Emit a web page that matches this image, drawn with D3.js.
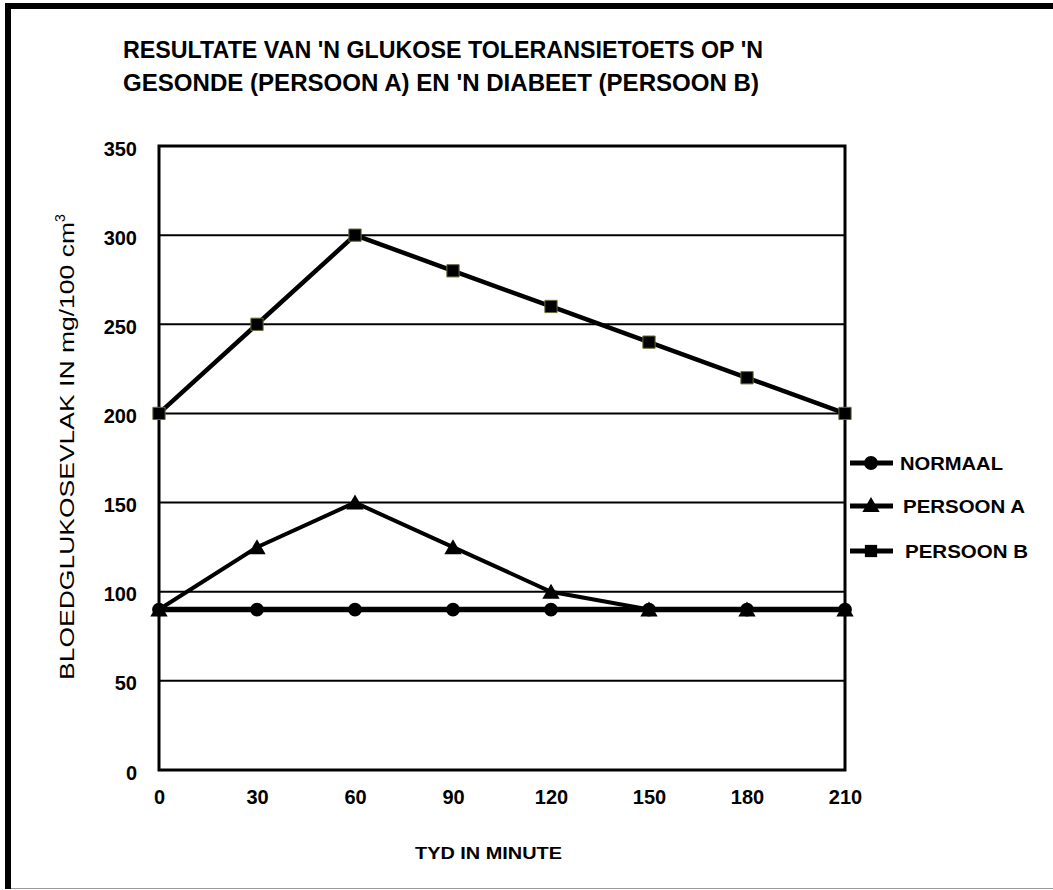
<!DOCTYPE html>
<html>
<head>
<meta charset="utf-8">
<script src="https://cdn.jsdelivr.net/npm/d3@7"></script>
<style>
  html, body { margin: 0; padding: 0; background: #fff; }
  svg { display: block; }
</style>
</head>
<body>
<svg id="chart" width="1053" height="890"></svg>
<script>
// ---- data ----
const times = [0, 30, 60, 90, 120, 150, 180, 210];
const normaal = [90, 90, 90, 90, 90, 90, 90, 90];
const persoonA = [90, 125, 150, 125, 100, 90, 90, 90];
const persoonB = [200, 250, 300, 280, 260, 240, 220, 200];
const yTicks = [0, 50, 100, 150, 200, 250, 300, 350];
const seriesNames = ["NORMAAL", "PERSOON A", "PERSOON B"];
const titleLines = ["RESULTATE VAN 'N GLUKOSE TOLERANSIETOETS OP 'N", "GESONDE (PERSOON A) EN 'N DIABEET (PERSOON B)"];
const xTitle = "TYD IN MINUTE";

const svg = d3.select("#chart");
const W = 1053, H = 890;
const FONT = "Liberation Sans, Arial, sans-serif";

// frame
svg.append("rect").attr("x", 0).attr("y", 0).attr("width", W).attr("height", H).attr("fill", "#fff");
svg.append("line").attr("x1", 8).attr("x2", 8).attr("y1", 3).attr("y2", 889).attr("stroke", "#000").attr("stroke-width", 6);
svg.append("line").attr("x1", 5).attr("x2", W).attr("y1", 6).attr("y2", 6).attr("stroke", "#000").attr("stroke-width", 6);
svg.append("line").attr("x1", 11).attr("x2", W).attr("y1", 888.5).attr("y2", 888.5).attr("stroke", "#999").attr("stroke-width", 1);

// title
svg.selectAll("text.title").data(titleLines).join("text")
  .attr("class", "title")
  .attr("x", 123).attr("y", (d, i) => 58 + i * 33)
  .attr("font-family", FONT)
  .attr("font-weight", "bold").attr("font-size", 24)
  .attr("textLength", (d, i) => i === 0 ? 640 : 636)
  .attr("lengthAdjust", "spacingAndGlyphs")
  .attr("fill", "#000")
  .text(d => d);

// scales
const x = d3.scaleLinear().domain([0, 210]).range([159, 845]);
const y = d3.scaleLinear().domain([0, 350]).range([770, 146]);

// gridlines
svg.append("g").selectAll("line").data(yTicks.filter(v => v > 0 && v < 350)).join("line")
  .attr("x1", x(0)).attr("x2", x(210))
  .attr("y1", d => y(d)).attr("y2", d => y(d))
  .attr("stroke", "#000").attr("stroke-width", 2);

// plot border
svg.append("rect").attr("x", x(0)).attr("y", y(350))
  .attr("width", x(210) - x(0)).attr("height", y(0) - y(350))
  .attr("fill", "none").attr("stroke", "#000").attr("stroke-width", 3);

// axes labels via d3 axes
const yAxis = d3.axisLeft(y).tickValues(yTicks).tickSize(0).tickPadding(22);
const gy = svg.append("g").attr("transform", `translate(${x(0)},0)`).call(yAxis);
gy.select(".domain").remove();
gy.selectAll("text").attr("font-family", FONT)
  .attr("font-size", 20).attr("font-weight", "bold").attr("fill", "#000").attr("dy", "0.45em");

const xAxis = d3.axisBottom(x).tickValues(times).tickSize(0).tickPadding(20);
const gx = svg.append("g").attr("transform", `translate(0,${y(0)})`).call(xAxis);
gx.select(".domain").remove();
gx.selectAll("text").attr("font-family", FONT)
  .attr("font-size", 20).attr("font-weight", "bold").attr("fill", "#000");

// axis titles
svg.append("text").attr("x", 415).attr("y", 859)
  .attr("font-family", FONT).attr("font-weight", "bold")
  .attr("font-size", 17).attr("textLength", 147).attr("lengthAdjust", "spacingAndGlyphs")
  .attr("fill", "#000").text(xTitle);

const yt = svg.append("text").attr("transform", "translate(74,680) rotate(-90)")
  .attr("font-family", FONT)
  .attr("font-size", 21).attr("fill", "#000");
yt.append("tspan").attr("textLength", 458).attr("lengthAdjust", "spacingAndGlyphs")
  .text("BLOEDGLUKOSEVLAK IN mg/100 cm");
yt.append("tspan").attr("font-size", 14).attr("dy", -9).text("3");

// series
const line = d3.line().x(d => x(d[0])).y(d => y(d[1]));
const sym = {
  circle: d3.symbol().type(d3.symbolCircle).size(150),
  triangle: d3.symbol().type(d3.symbolTriangle).size(130),
  square: d3.symbol().type(d3.symbolSquare).size(150)
};
const series = [
  { name: seriesNames[0], vals: normaal, w: 5.5, shape: "circle" },
  { name: seriesNames[1], vals: persoonA, w: 4, shape: "triangle" },
  { name: seriesNames[2], vals: persoonB, w: 4.5, shape: "square" }
];
series.forEach(s => {
  const pts = times.map((t, i) => [t, s.vals[i]]);
  svg.append("path").datum(pts).attr("d", line)
    .attr("fill", "none").attr("stroke", "#000").attr("stroke-width", s.w)
    .attr("stroke-linejoin", "miter");
  svg.append("g").selectAll("path").data(pts).join("path")
    .attr("d", sym[s.shape])
    .attr("transform", d => `translate(${x(d[0])},${y(d[1]) + (s.shape === "triangle" ? 2 : 0)})`)
    .attr("fill", "#000")
    .attr("stroke", s.shape === "square" ? "#6b6b3a" : "none").attr("stroke-width", 1);
});

// legend
const legY = [463, 506, 551];
const legTextX = [900, 903, 905];
const legTextW = [103, 122, 123];
series.forEach((s, i) => {
  const g = svg.append("g");
  g.append("line").attr("x1", 850).attr("x2", 893).attr("y1", legY[i]).attr("y2", legY[i])
    .attr("stroke", "#000").attr("stroke-width", 5);
  g.append("path").attr("d", sym[s.shape]).attr("transform", `translate(871,${legY[i] + (s.shape === "triangle" ? 1 : 0)})`)
    .attr("fill", "#000");
  g.append("text").attr("x", legTextX[i]).attr("y", legY[i] + 7)
    .attr("font-family", FONT).attr("font-weight", "bold")
    .attr("font-size", 19).attr("textLength", legTextW[i]).attr("lengthAdjust", "spacingAndGlyphs")
    .attr("fill", "#000").text(s.name);
});
</script>
</body>
</html>
